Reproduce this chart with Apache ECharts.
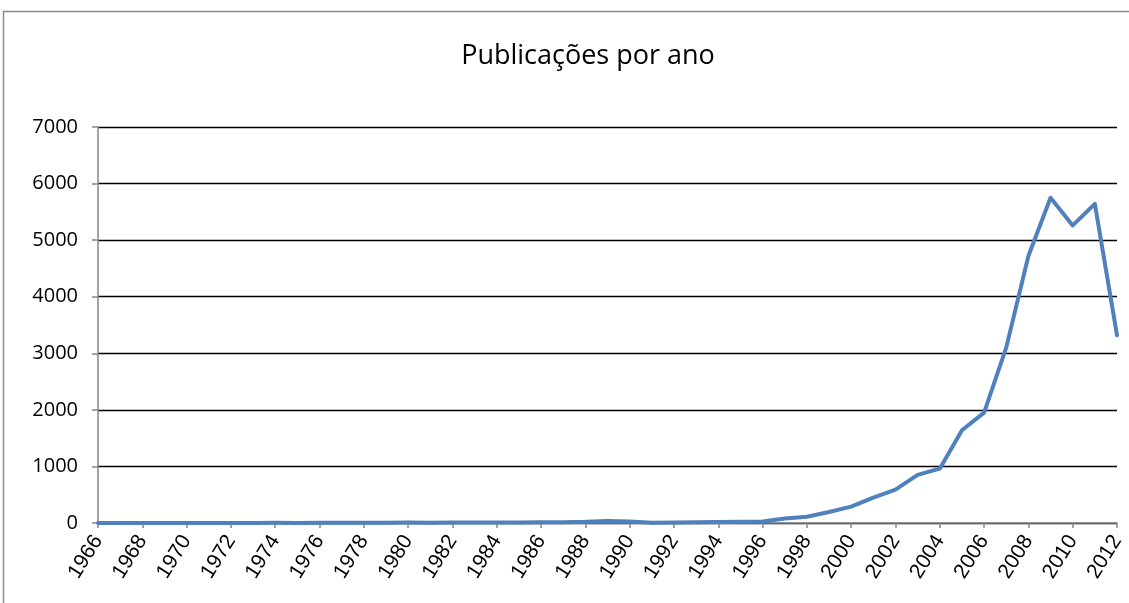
<!DOCTYPE html>
<html>
<head>
<meta charset="utf-8">
<script src="https://cdn.jsdelivr.net/npm/echarts@6/dist/echarts.min.js"></script>
<style>
  html, body { margin: 0; padding: 0; background: #fff; }
  #chart { width: 1129px; height: 603px; }
</style>
</head>
<body>
<div id="chart"></div>
<script>
const chartTitle = "Publicações por ano";

const years = [];
for (let y = 1966; y <= 2012; y++) years.push(String(y));

// publications per year
const publications = [
  2, 1, 2, 1, 2, 1, 2, 2, 3, 2,          // 1966-1975
  3, 3, 4, 5, 8, 5, 7, 8, 8, 10,         // 1976-1985
  12, 14, 20, 35, 28, 6, 10, 14, 18, 20, // 1986-1995
  28, 80, 110, 195, 290, 450, 590, 850, 960, 1640, // 1996-2005
  1950, 3100, 4720, 5750, 5260, 5640, 3320         // 2006-2012
];

const yTicks = [0, 1000, 2000, 3000, 4000, 5000, 6000, 7000];

const chart = echarts.init(document.getElementById("chart"));
chart.setOption({
  backgroundColor: "#fff",
  animation: false,
  title: {
    text: chartTitle,
    left: 583,
    top: 38,
    textAlign: "center",
    textStyle: {
      fontFamily: "Open Sans",
      fontSize: 27,
      fontWeight: "normal",
      color: "#000"
    }
  },
  graphic: [
    {
      type: "rect",
      shape: { x: 3.5, y: 11.5, width: 1200, height: 700 },
      style: { fill: "none", stroke: "#8c8c8c", lineWidth: 1.5 },
      silent: true
    }
  ],
  grid: { left: 98, right: 12, top: 127, bottom: 80 },
  xAxis: {
    type: "category",
    data: years,
    boundaryGap: false,
    axisLine: { lineStyle: { color: "#868686", width: 1.5 } },
    axisTick: { interval: 1, length: 5, lineStyle: { color: "#868686", width: 1.5 } },
    axisLabel: {
      interval: 1,
      rotate: 58,
      margin: 14,
      fontFamily: "Liberation Sans",
      fontSize: 21,
      color: "#000"
    },
    splitLine: { show: false }
  },
  yAxis: {
    type: "value",
    min: yTicks[0],
    max: yTicks[yTicks.length - 1],
    interval: 1000,
    axisLine: { show: true, lineStyle: { color: "#868686", width: 1.5 } },
    axisTick: { show: true, length: 6, lineStyle: { color: "#868686", width: 1.5 } },
    axisLabel: {
      margin: 20,
      fontFamily: "Open Sans",
      fontSize: 20,
      color: "#000",
      formatter: (v) => String(v)
    },
    splitLine: { lineStyle: { color: "#000", width: 1.3 } }
  },
  series: [
    {
      name: chartTitle,
      type: "line",
      data: publications,
      symbol: "none",
      lineStyle: { color: "#4f81bd", width: 4, join: "round", cap: "round" },
      z: 3
    }
  ]
});
</script>
</body>
</html>
